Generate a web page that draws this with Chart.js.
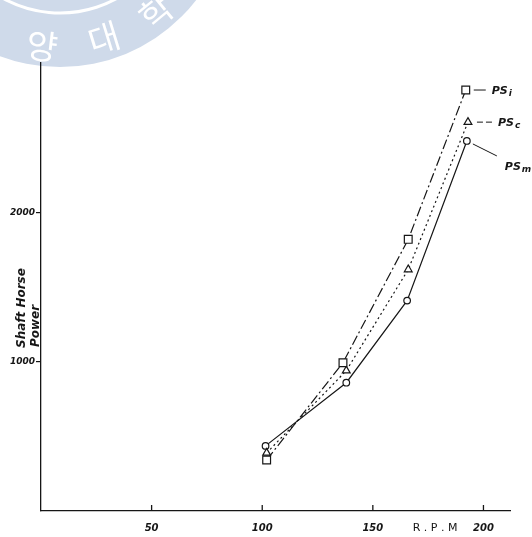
<!DOCTYPE html>
<html>
<head>
<meta charset="utf-8">
<script src="https://cdn.jsdelivr.net/npm/chart.js@4/dist/chart.umd.min.js"></script>
<style>
html, body { margin: 0; padding: 0; background: #fff; }
#wrap { width: 532px; height: 537px; }
</style>
</head>
<body>
<div id="wrap"><canvas id="chart" width="532" height="537"></canvas></div>
<script>
// ---- values ----
const xTicks = [50, 100, 150, 200];
const yTicks = [1000, 2000];

const psiRpm = [102, 136.5, 166, 192];
const psiHp  = [342, 993, 1819, 2819];
const pscRpm = [102, 138, 166, 193];
const pscHp  = [389, 940, 1617, 2604];
const psmRpm = [101.5, 138, 165.5, 192.5];
const psmHp  = [436, 859, 1409, 2478];

const seriesSubs = ['i', 'c', 'm'];

const INK = '#161616';

const pts = (xs, ys) => xs.map((x, i) => ({ x: x, y: ys[i] }));

// ---- faded university seal in the corner of the scan ----
const sealPlugin = {
    id: 'seal',
    beforeDraw(chart) {
        const ctx = chart.ctx;
        const cx = 60, cy = -105, r = 172;
        ctx.save();
        ctx.fillStyle = '#cfdaea';
        ctx.beginPath();
        ctx.arc(cx, cy, r, 0, Math.PI * 2);
        ctx.fill();
        ctx.strokeStyle = '#ffffff';
        ctx.lineWidth = 3;
        ctx.beginPath();
        ctx.arc(cx, cy, 118, 0.15 * Math.PI, 0.75 * Math.PI);
        ctx.stroke();
        ctx.fillStyle = '#ffffff';
        ctx.font = '34px "Noto Sans CJK KR"';
        ctx.textAlign = 'center';
        ctx.textBaseline = 'middle';
        [['양', 42, 46], ['대', 104, 38], ['학', 156, 12]].forEach(([ch, x, y]) => {
            const rot = Math.atan2(cx - x, y - cy);
            ctx.save();
            ctx.translate(x, y);
            ctx.rotate(rot);
            ctx.fillText(ch, 0, 0);
            ctx.restore();
        });
        ctx.restore();
    }
};

// ---- inward x ticks, axis titles, series labels ----
const notesPlugin = {
    id: 'notes',
    afterDraw(chart) {
        const ctx = chart.ctx;
        const xs = chart.scales.x;
        const base = chart.chartArea.bottom;
        ctx.save();
        ctx.strokeStyle = INK;
        ctx.fillStyle = INK;
        ctx.lineWidth = 1.3;
        xTicks.forEach(v => {
            const px = xs.getPixelForValue(v);
            ctx.beginPath();
            ctx.moveTo(px, base);
            ctx.lineTo(px, base - 6);
            ctx.stroke();
        });

        // R.P.M
        ctx.font = '11px "DejaVu Sans"';
        ctx.textAlign = 'center';
        ctx.textBaseline = 'middle';
        ctx.fillText('R . P . M', 435, 528);

        // y title, two rotated lines
        ctx.font = 'italic bold 12px "DejaVu Sans"';
        ctx.textAlign = 'left';
        ctx.textBaseline = 'alphabetic';
        [['Shaft Horse', 25, 348], ['Power', 39, 347]].forEach(([t, x, y]) => {
            ctx.save();
            ctx.translate(x, y);
            ctx.rotate(-Math.PI / 2);
            ctx.fillText(t, 0, 0);
            ctx.restore();
        });

        // series labels next to the last points
        const lab = (sub, x, y) => {
            ctx.font = 'italic bold 11px "DejaVu Sans"';
            ctx.textAlign = 'left';
            ctx.fillText('PS', x, y);
            const w = ctx.measureText('PS').width;
            ctx.font = 'italic bold 9px "DejaVu Sans"';
            ctx.fillText(sub, x + w + 1, y + 2);
        };
        ctx.lineWidth = 1;
        const p0 = chart.getDatasetMeta(0).data[3];
        ctx.beginPath();
        ctx.moveTo(p0.x + 8, p0.y);
        ctx.lineTo(p0.x + 20, p0.y);
        ctx.stroke();
        lab(seriesSubs[0], p0.x + 26, p0.y + 4);

        const p1 = chart.getDatasetMeta(1).data[3];
        ctx.setLineDash([6, 3]);
        ctx.beginPath();
        ctx.moveTo(p1.x + 9, p1.y);
        ctx.lineTo(p1.x + 26, p1.y);
        ctx.stroke();
        ctx.setLineDash([]);
        lab(seriesSubs[1], p1.x + 30, p1.y + 4);

        const p2 = chart.getDatasetMeta(2).data[3];
        ctx.beginPath();
        ctx.moveTo(p2.x + 6, p2.y + 3);
        ctx.lineTo(p2.x + 30, p2.y + 15);
        ctx.stroke();
        lab(seriesSubs[2], p2.x + 38, p2.y + 29);
        ctx.restore();
    }
};

const chart = new Chart(document.getElementById('chart'), {
    type: 'scatter',
    data: {
        datasets: [{
            label: 'PSi',
            data: pts(psiRpm, psiHp),
            showLine: true,
            borderColor: INK,
            borderWidth: 1.2,
            borderDash: [10, 3, 2, 3],
            pointStyle: 'rect',
            pointRadius: 5.5,
            pointBorderWidth: 1.2,
            pointBackgroundColor: '#fff',
            pointBorderColor: INK
        }, {
            label: 'PSc',
            data: pts(pscRpm, pscHp),
            showLine: true,
            borderColor: INK,
            borderWidth: 1.2,
            borderDash: [2, 3],
            pointStyle: 'triangle',
            pointRadius: 4.5,
            pointBorderWidth: 1.2,
            pointBackgroundColor: '#fff',
            pointBorderColor: INK
        }, {
            label: 'PSm',
            data: pts(psmRpm, psmHp),
            showLine: true,
            borderColor: INK,
            borderWidth: 1.2,
            pointStyle: 'circle',
            pointRadius: 3.3,
            pointBorderWidth: 1.2,
            pointBackgroundColor: '#fff',
            pointBorderColor: INK
        }]
    },
    options: {
        responsive: false,
        animation: false,
        layout: { padding: { top: 63, right: 22, left: 0, bottom: 0 } },
        plugins: { legend: { display: false }, tooltip: { enabled: false } },
        scales: {
            x: {
                type: 'linear',
                min: 0,
                max: 212,
                afterBuildTicks: s => { s.ticks = xTicks.map(v => ({ value: v })); },
                afterFit: s => { s.height = 26; },
                grid: { display: false, drawTicks: false },
                border: { display: true, color: INK, width: 1.3 },
                ticks: { color: INK, font: { family: 'DejaVu Sans', style: 'italic', weight: 'bold', size: 10 }, padding: 11, maxRotation: 0, autoSkip: false, callback: v => String(v) }
            },
            y: {
                min: 0,
                max: 3000,
                afterBuildTicks: s => { s.ticks = yTicks.map(v => ({ value: v })); },
                afterFit: s => { s.width = 41; },
                grid: { display: true, drawOnChartArea: false, drawTicks: true, tickLength: 5, color: INK, lineWidth: 1.2 },
                border: { display: true, color: INK, width: 1.3 },
                ticks: { color: INK, font: { family: 'DejaVu Sans', style: 'italic', weight: 'bold', size: 9 }, padding: 1, autoSkip: false, callback: v => String(v) }
            }
        }
    },
    plugins: [sealPlugin, notesPlugin]
});
</script>
</body>
</html>
